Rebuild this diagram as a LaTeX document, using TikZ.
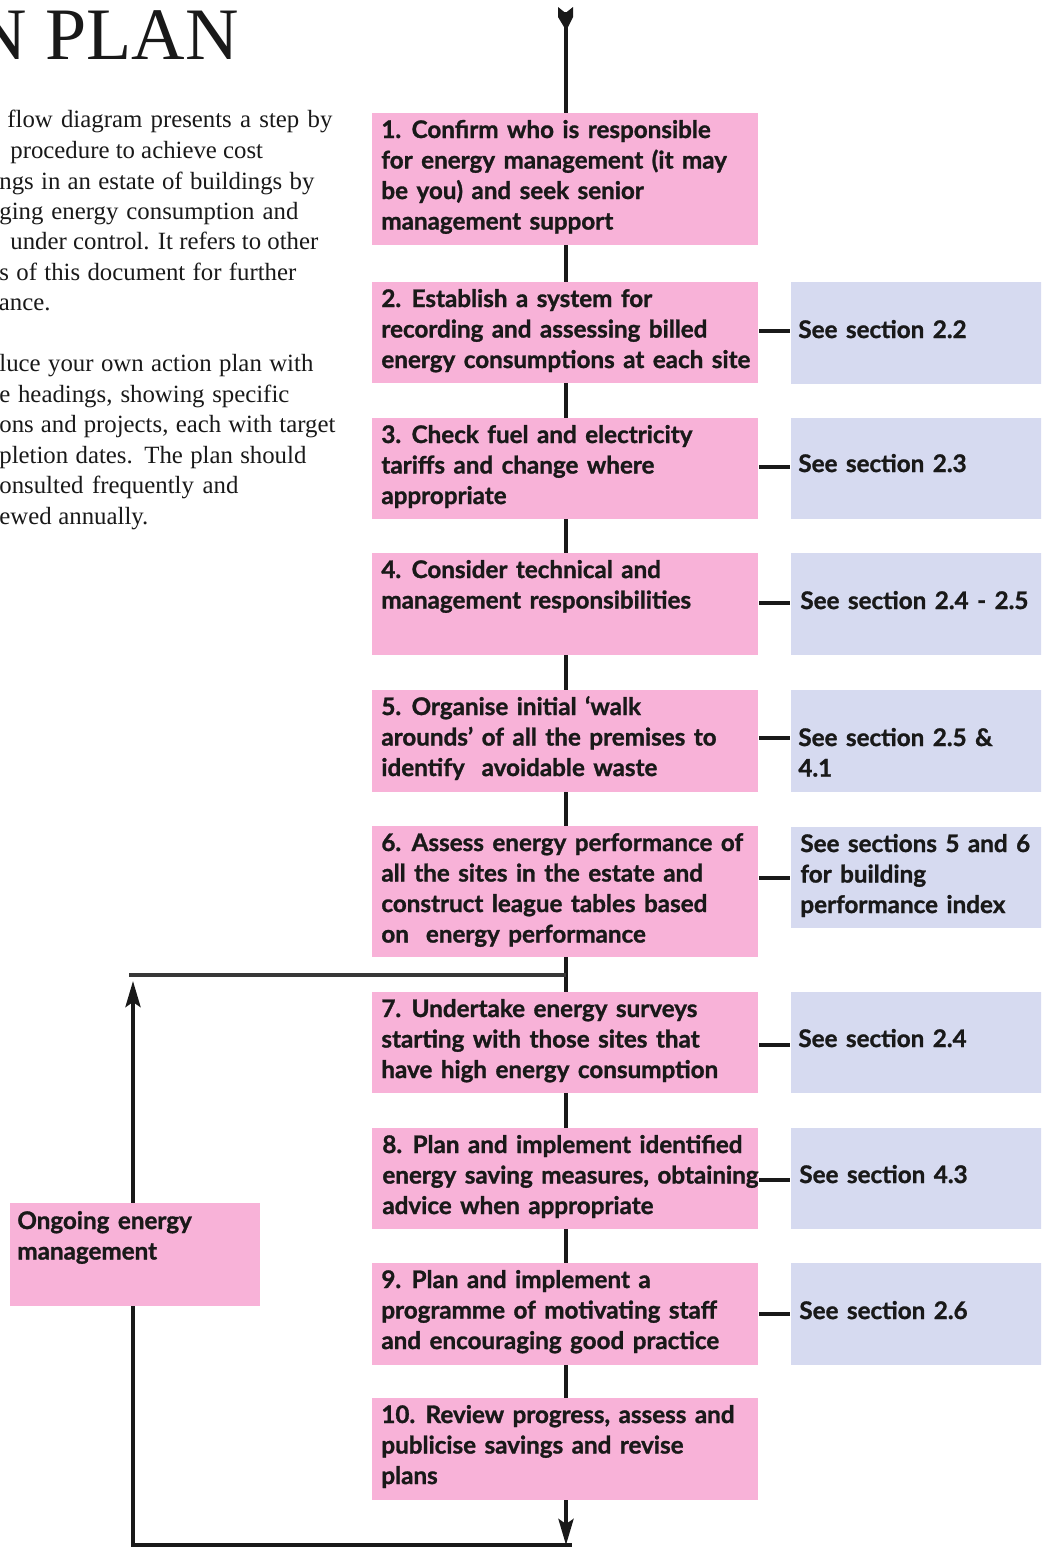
\documentclass[tikz,border=0pt]{standalone}
\usepackage{fontspec}
\setmainfont{Liberation Serif}
\newfontfamily\boxfont{Lato}[BoldFeatures={FakeBold=1.2}]
\usetikzlibrary{arrows.meta,fit,calc}
\definecolor{pinkfill}{RGB}{248,178,216}
\definecolor{bluefill}{RGB}{214,218,240}
\definecolor{ink}{RGB}{25,25,25}
\definecolor{loopgray}{RGB}{55,55,55}
\tikzset{
  pinkbox/.style={fill=pinkfill, inner sep=0pt, draw=none},
  bluebox/.style={fill=bluefill, inner sep=0pt, draw=none},
  btext/.style={anchor=base west, inner sep=0pt, text=ink},
  bodytext/.style={anchor=base east, inner sep=0pt, text=ink, font=\fontsize{12.4}{15}\selectfont},
  bodyleft/.style={bodytext, anchor=base west},
  spine/.style={draw=ink, line width=2pt},
  sideline/.style={draw=ink, line width=2.3pt, shorten <=0.5pt, shorten >=0.5pt},
  loopline/.style={draw=loopgray, line width=2.2pt},
  arrowed/.style={-{Stealth[length=13pt,width=7.5pt,inset=2.5pt]}}
}
\newcommand\boxlines[1]{\parbox[t]{220pt}{\fontsize{12.1}{15.25}\selectfont\boxfont\bfseries\spaceskip=0.35em\relax\raggedright #1}}
\newcommand\spreadline[2]{\makebox[#1pt][s]{#2}}
\begin{document}
\begin{tikzpicture}[x=0.5pt,y=-0.5pt]
\useasboundingbox (0,0) rectangle (1041,1547);
\clip (0,0) rectangle (1041,1547);
\fill[white] (0,0) rectangle (1041,1547);

% title and introduction
\node[anchor=base east, inner sep=0pt, text=ink, font=\fontsize{37}{37}\selectfont] (title) at (239,59) {N PLAN};
\node[bodyleft] (p1) at (7,127) {\spreadline{162.5}{flow diagram presents a step by}};
\node[bodyleft] (p2) at (10,158) {procedure to achieve cost};
\node[bodyleft] (p3) at (-1,189) {\spreadline{157.5}{ngs in an estate of buildings by}};
\node[bodyleft] (p4) at (-1,219) {\spreadline{149.5}{ging energy consumption and}};
\node[bodyleft] (p5) at (10,249) {\spreadline{154}{under control. It refers to other}};
\node[bodyleft] (p6) at (-1,280) {\spreadline{148.5}{s of this document for further}};
\node[bodytext] (p7) at (51,310) {ance.};
\node[bodyleft] (p8) at (-1,371) {\spreadline{157}{luce your own action plan with}};
\node[bodyleft] (p9) at (-1,402) {\spreadline{145}{e headings, showing specific}};
\node[bodyleft] (p10) at (-1,432) {\spreadline{168}{ons and projects, each with target}};
\node[bodyleft] (p11) at (-1,463) {\spreadline{153.5}{pletion dates. The plan should}};
\node[bodyleft] (p12) at (-1,493) {\spreadline{119.5}{onsulted frequently and}};
\node[bodyleft] (p13) at (-1,524) {\spreadline{74.5}{ewed annually.}};

% step boxes
\node[pinkbox, fit={(372,113)(758,245)}] (b1) {};
\node[pinkbox, fit={(372,282)(758,383)}] (b2) {};
\node[pinkbox, fit={(372,418)(758,519)}] (b3) {};
\node[pinkbox, fit={(372,553)(758,655)}] (b4) {};
\node[pinkbox, fit={(372,690)(758,792)}] (b5) {};
\node[pinkbox, fit={(372,826)(758,957)}] (b6) {};
\node[pinkbox, fit={(372,992)(758,1093)}] (b7) {};
\node[pinkbox, fit={(372,1128)(758,1229)}] (b8) {};
\node[pinkbox, fit={(372,1263)(758,1365)}] (b9) {};
\node[pinkbox, fit={(372,1398)(758,1500)}] (b10) {};
\node[pinkbox, fit={(10,1203)(260,1306)}] (og) {};

% reference boxes
\node[bluebox, fit={(791,282)(1045,384)}] (s2) {};
\node[bluebox, fit={(791,418)(1045,519)}] (s3) {};
\node[bluebox, fit={(791,553)(1045,655)}] (s4) {};
\node[bluebox, fit={(791,690)(1045,792)}] (s5) {};
\node[bluebox, fit={(791,827)(1045,928)}] (s6) {};
\node[bluebox, fit={(791,992)(1045,1093)}] (s7) {};
\node[bluebox, fit={(791,1128)(1045,1229)}] (s8) {};
\node[bluebox, fit={(791,1263)(1045,1365)}] (s9) {};

% step texts
\node[btext] (t1) at (381,138) {\boxlines{1. Confirm who is responsible\\for energy management (it may\\be you) and seek senior\\management support}};
\node[btext] (t2) at (381,307) {\boxlines{2. Establish a system for\\recording and assessing billed\\energy consumptions at each site}};
\node[btext] (t3) at (381,443) {\boxlines{3. Check fuel and electricity\\tariffs and change where\\appropriate}};
\node[btext] (t4) at (381,578) {\boxlines{4. Consider technical and\\management responsibilities}};
\node[btext] (t5) at (381,715) {\boxlines{5. Organise initial ‘walk\\arounds’ of all the premises to\\identify\ \ avoidable waste}};
\node[btext] (t6) at (381,851) {\boxlines{6. Assess energy performance of\\all the sites in the estate and\\construct league tables based\\on\ \ energy performance}};
\node[btext] (t7) at (381,1017) {\boxlines{7. Undertake energy surveys\\starting with those sites that\\have high energy consumption}};
\node[btext] (t8) at (382,1153) {\boxlines{8. Plan and implement identified\\energy saving measures, obtaining\\advice when appropriate}};
\node[btext] (t9) at (381,1288) {\boxlines{9. Plan and implement a\\programme of motivating staff\\and encouraging good practice}};
\node[btext] (t10) at (381,1423) {\boxlines{10. Review progress, assess and\\publicise savings and revise\\plans}};
\node[btext] (tog) at (17,1229) {\boxlines{Ongoing energy\\management}};

% reference texts
\node[btext] (u2) at (798,338) {\boxlines{See section 2.2}};
\node[btext] (u3) at (798,472) {\boxlines{See section 2.3}};
\node[btext] (u4) at (800,609) {\boxlines{See section 2.4 - 2.5}};
\node[btext] (u5) at (798,746) {\boxlines{See section 2.5 \&\\4.1}};
\node[btext] (u6) at (800,852) {\boxlines{See sections 5 and 6\\for building\\performance index}};
\node[btext] (u7) at (798,1047) {\boxlines{See section 2.4}};
\node[btext] (u8) at (799,1183) {\boxlines{See section 4.3}};
\node[btext] (u9) at (799,1319) {\boxlines{See section 2.6}};

% main flow line
\coordinate (sp) at (566,0);
\coordinate (toptail) at (566,12);
\draw[spine] (toptail) -- (b1.north -| sp);
\fill[ink] (558,7) -- (565.5,13) -- (573,7) -- (573,17) -- (568,27) -- (564,27) -- (558,17) -- cycle;
\foreach \a/\b in {b1/b2,b2/b3,b3/b4,b4/b5,b5/b6,b6/b7,b7/b8,b8/b9,b9/b10}
  \draw[spine] (\a.south -| sp) -- (\b.north -| sp);

% side connectors
\foreach \n/\yy in {2/331,3/467,4/603,5/738,6/878,7/1045,8/1180,9/1314}{
  \coordinate (r\n) at (0,\yy);
  \draw[sideline] (b\n.east |- r\n) -- (s\n.west |- r\n);
}

% feedback loop
\coordinate (lt) at (133,975);
\coordinate (lb) at (133,1545);
\draw[loopline] ([xshift=-2pt]lt) -- (lt -| sp);
\draw[spine, arrowed] (og.north -| lt) -- ([yshift=-3pt]lt);
\draw[spine, line join=miter] (og.south -| lb) -- (lb) -- ([xshift=3pt]lb -| sp);
\draw[spine, arrowed] (b10.south -| sp) -- (lb -| sp);
\end{tikzpicture}
\end{document}
